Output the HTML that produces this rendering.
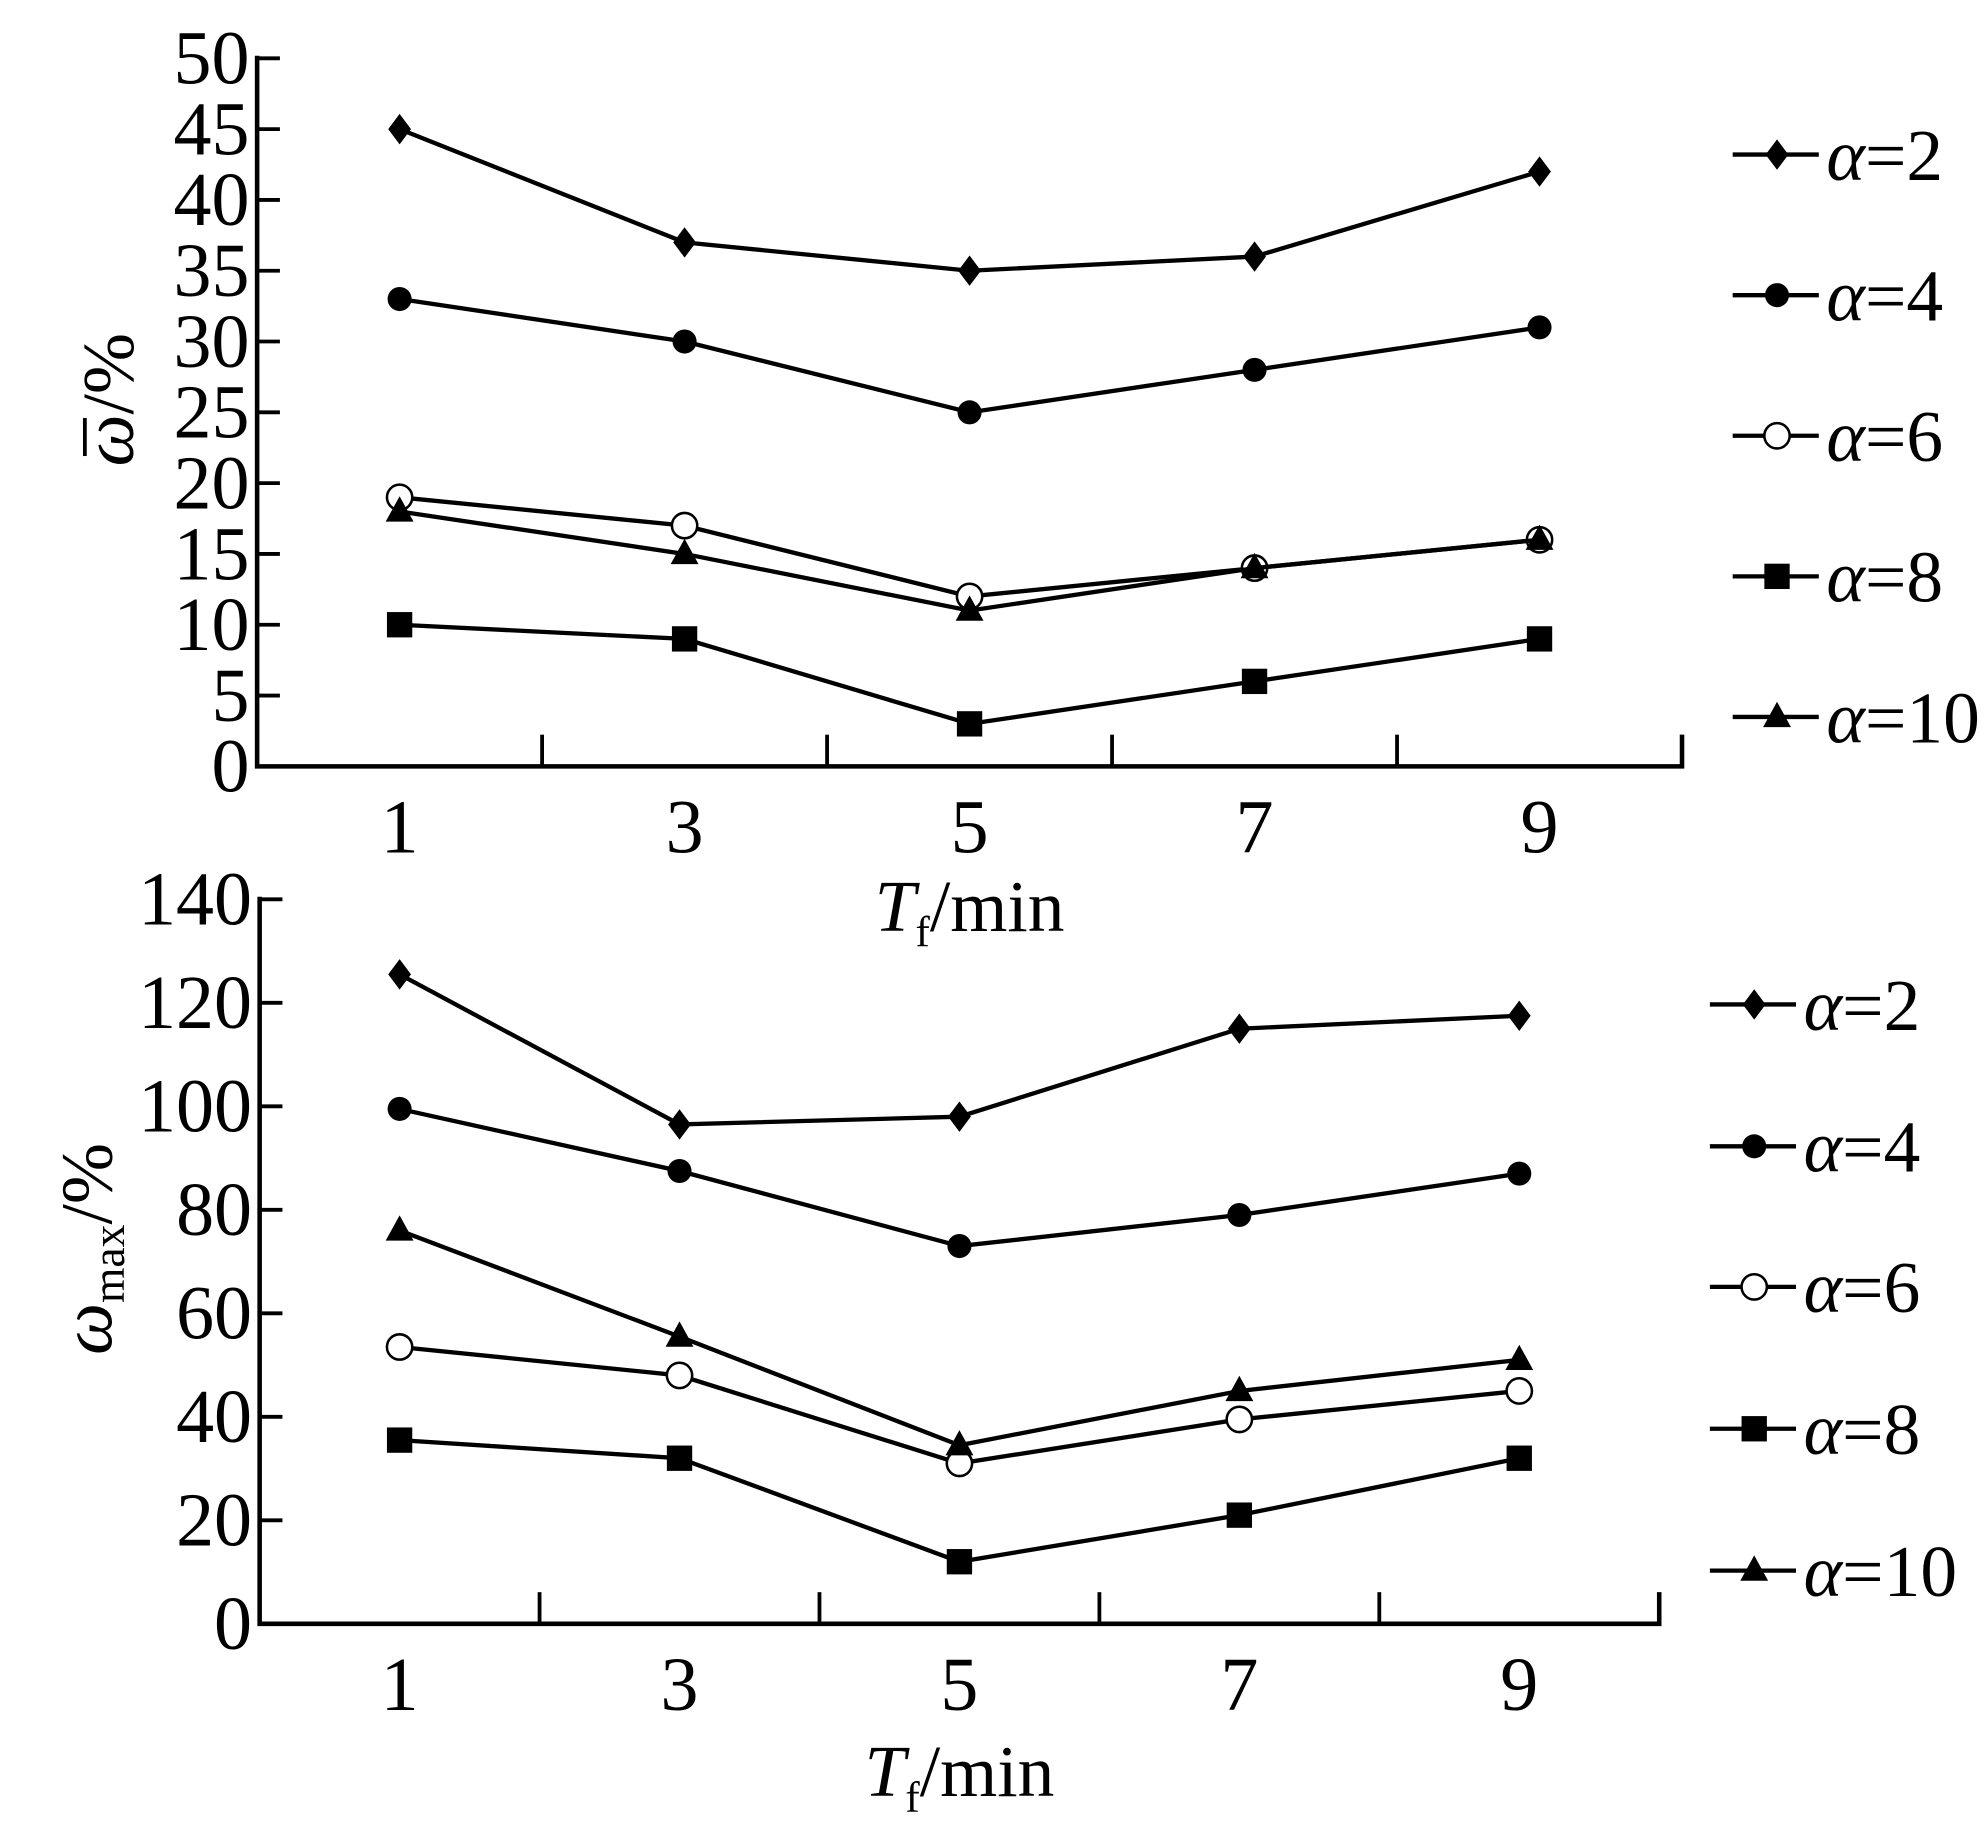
<!DOCTYPE html>
<html><head><meta charset="utf-8"><style>
html,body{margin:0;padding:0;background:#fff;}
svg{display:block;}
text{font-family:"Liberation Serif",serif;fill:#000;}
</style></head><body>
<svg id="chart" width="1986" height="1824" viewBox="0 0 1568 1440" xmlns="http://www.w3.org/2000/svg"></svg>
<script>
const categories=[1,3,5,7,9];
const seriesLabels=["2","4","6","8","10"];
const markers=["diamond","circle","ocircle","square","triangle"];
const topA2=[45,37,35,36,42];
const topA4=[33,30,25,28,31];
const topA6=[19,17,12,14,16];
const topA8=[10,9,3,6,9];
const topA10=[18,15,11,14,16];
const botA2=[125.5,96.5,98,115,117.5];
const botA4=[99.5,87.5,73,79,87];
const botA6=[53.5,48,31,39.5,45];
const botA8=[35.5,32,12,21,32];
const botA10=[76,55.5,34.5,45,51];
const topTicks=[0,5,10,15,20,25,30,35,40,45,50];
const botTicks=[0,20,40,60,80,100,120,140];

const NS="http://www.w3.org/2000/svg";
const svg=document.getElementById('chart');
function mk(tag,attrs,parent){const e=document.createElementNS(NS,tag);for(const k in attrs)e.setAttribute(k,attrs[k]);(parent||svg).appendChild(e);return e;}

function drawPanel(cfg){
  const g=mk('g',{});
  
  
  const x0=cfg.x0,x1=cfg.x1,y0=cfg.y0,y1=cfg.y1,ymax=cfg.ymax;
  const bw=(x1-x0)/categories.length;
  const xs=i=>x0+bw*(i+0.5);
  const ys=v=>y0-(v/ymax)*(y0-y1);
  const ax=mk('path',{d:`M${x0},${y1-2} L${x0},${y0} L${x1},${y0} L${x1},${y0-25}`,fill:'none',stroke:'#000','stroke-width':3.6},g);
  
  
  for(let i=1;i<categories.length;i++){
    const t=mk('line',{x1:x0+bw*i,x2:x0+bw*i,y1:y0,y2:y0-25,stroke:'#000','stroke-width':3},g);
    
    
  }
  cfg.ticks.forEach(v=>{
    const y=ys(v);
    if(v>0){const t=mk('line',{x1:x0,x2:x0+18,y1:y,y2:y,stroke:'#000','stroke-width':3},g);
    
    }
    const tx=mk('text',{x:x0-6,y:y+20,'text-anchor':'end','font-size':60},g);
    tx.textContent=v;
    
    
  });
  categories.forEach((c,i)=>{
    const tx=mk('text',{x:xs(i),y:y0+68,'text-anchor':'middle','font-size':60},g);
    tx.textContent=c;
    
    
  });
  const xt=mk('text',{x:(x0+x1)/2,y:cfg.xtY,'text-anchor':'middle','font-size':58},g);
  xt.innerHTML='<tspan font-style="italic">T</tspan><tspan font-size="34" dy="12">f</tspan><tspan dy="-12">/min</tspan>';
  
  
  const yt=mk('text',{x:0,y:0,'text-anchor':'middle','font-size':58,transform:`translate(${cfg.ytX},${(y0+y1)/2-10}) rotate(-90)`},g);
  yt.innerHTML=cfg.ytHTML;
  
  
  if(cfg.overline){
    const ol=mk('line',{x1:67,x2:67,y1:330,y2:360,stroke:'#000','stroke-width':3},g);
    
    
  }
  cfg.series.forEach((vals,si)=>{
    const sg=mk('g',{},g);
    
    
    const pts=vals.map((v,i)=>xs(i)+','+ys(v)).join(' ');
    const pl=mk('polyline',{points:pts,fill:'none',stroke:'#000','stroke-width':3.4},sg);
    
    
    vals.forEach((v,i)=>{
      const m=drawMarker(markers[si],xs(i),ys(v),sg);
      
      
    });
  });
  cfg.legendY.forEach((ly,si)=>{
    const lg=mk('g',{},g);
    
    
    mk('line',{x1:cfg.legX,x2:cfg.legX+68,y1:ly,y2:ly,stroke:'#000','stroke-width':3.4},lg);
    drawMarker(markers[si],cfg.legX+35,ly,lg);
    const t=mk('text',{x:cfg.legX+74,y:ly+20,'font-size':58},lg);
    t.innerHTML='<tspan font-style="italic">α</tspan>='+seriesLabels[si];
  });
}
function drawMarker(type,x,y,p){
  if(type==='diamond')return mk('polygon',{points:`${x},${y-12} ${x+9},${y} ${x},${y+12} ${x-9},${y}`,fill:'#000'},p);
  if(type==='circle')return mk('circle',{cx:x,cy:y,r:9.5,fill:'#000'},p);
  if(type==='ocircle')return mk('circle',{cx:x,cy:y,r:10,fill:'#fff',stroke:'#000','stroke-width':2},p);
  if(type==='square')return mk('rect',{x:x-10,y:y-10,width:20,height:20,fill:'#000'},p);
  return mk('polygon',{points:`${x},${y-12} ${x+11},${y+8} ${x-11},${y+8}`,fill:'#000'},p);
}
drawPanel({name:'top-panel',x0:203,x1:1328,y0:605,y1:46,ymax:50,ticks:topTicks,
  series:[topA2,topA4,topA6,topA8,topA10],xtY:735,ytX:105,overline:true,
  ytHTML:'<tspan font-style="italic">ω</tspan>/%',
  legX:1368,legendY:[122,233,344,455,566]});
drawPanel({name:'bottom-panel',x0:205,x1:1310,y0:1282,y1:710,ymax:140,ticks:botTicks,
  series:[botA2,botA4,botA6,botA8,botA10],xtY:1418,ytX:88,overline:false,
  ytHTML:'<tspan font-style="italic">ω</tspan><tspan font-size="36" dy="10">max</tspan><tspan dy="-10">/%</tspan>',
  legX:1350,legendY:[793,905,1016,1128,1240]});
</script>
</body></html>
